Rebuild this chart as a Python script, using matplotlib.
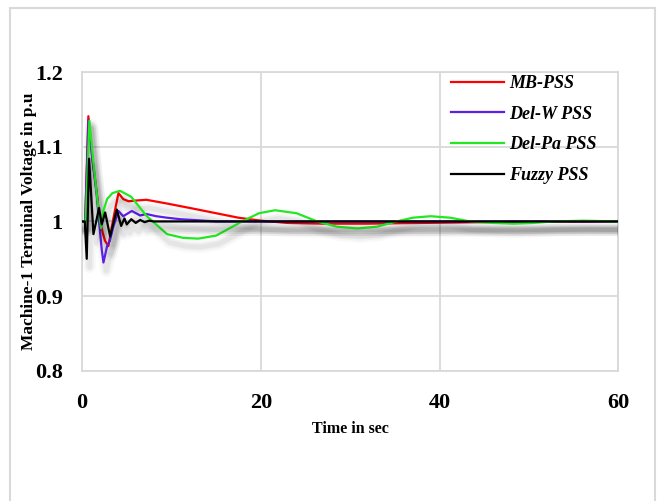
# Machine-1 terminal voltage response for four stabiliser types
import matplotlib.pyplot as plt
import matplotlib.patheffects as pe
from matplotlib.patches import Rectangle

# time (s) and voltage (p.u) samples for each controller
t_mb = [0, 0.35, 0.7, 1.2, 1.64, 1.9, 2.3, 2.57, 2.94, 3.5, 4.07, 4.6, 5.2, 6.0, 7.2,
        9.5, 12.5, 15.0, 17.5, 20.0, 23.0, 27.0, 32.0, 38.0, 45.0, 60.0]
v_mb = [1.0, 1.0, 1.141, 1.08, 1.039, 1.01, 0.985, 0.974, 0.967, 1.004, 1.038, 1.03,
        1.027, 1.028, 1.029, 1.024, 1.017, 1.011, 1.005, 1.001, 0.998, 0.997, 0.997,
        0.998, 0.999, 1.0]

t_dw = [0, 0.35, 0.72, 1.2, 1.64, 1.9, 2.2, 2.39, 2.8, 3.1, 3.5, 4.07, 4.6, 5.56,
        6.5, 7.2, 8.3, 9.5, 11.0, 12.4, 15.0, 60.0]
v_dw = [1.0, 1.0, 1.136, 1.078, 1.036, 1.0, 0.962, 0.945, 0.967, 0.974, 0.993, 1.014,
        1.007, 1.014, 1.008, 1.01, 1.007, 1.005, 1.003, 1.002, 1.0, 1.0]

t_dp = [0, 0.4, 0.82, 1.3, 1.7, 2.13, 2.4, 2.8, 3.4, 4.25, 5.5, 7.24, 9.5, 11.3, 13.0,
        15.0, 17.9, 19.8, 21.6, 24.0, 26.3, 28.5, 30.8, 33.0, 35.2, 37.0, 39.0, 41.2,
        43.4, 46.0, 48.3, 50.5, 52.7, 56.1, 60.0]
v_dp = [1.0, 1.0, 1.135, 1.075, 1.03, 0.991, 1.015, 1.03, 1.038, 1.041, 1.033, 1.007,
        0.983, 0.978, 0.977, 0.981, 1.0, 1.011, 1.015, 1.011, 1.0, 0.993, 0.9906, 0.993,
        1.0, 1.005, 1.007, 1.005, 1.0, 0.998, 0.997, 0.998, 1.0, 1.001, 1.0]

t_fz = [0, 0.3, 0.52, 0.78, 1.27, 1.9, 2.2, 2.58, 3.14, 3.88, 4.37, 4.74, 5.0, 5.5,
        6.0, 6.5, 7.0, 7.5, 8.0, 9.0, 60.0]
v_fz = [1.0, 1.0, 0.95, 1.084, 0.983, 1.018, 0.996, 1.012, 0.98, 1.016, 0.994, 1.004,
        0.996, 1.003, 0.998, 1.002, 0.999, 1.001, 1.0, 1.0, 1.0]

labels = ['MB-PSS', 'Del-W PSS', 'Del-Pa PSS', 'Fuzzy PSS']
colors = ['#ff0000', '#5b1fe6', '#22e822', '#000000']

x_ticks = [0, 20, 40, 60]
y_ticks = [0.8, 0.9, 1.0, 1.1, 1.2]
y_ticklabels = ['0.8', '0.9', '1', '1.1', '1.2']

fig = plt.figure(figsize=(6.62, 5.01), dpi=100)
ax = fig.add_axes([0.124, 0.26, 0.81, 0.596])

# light blurred drop shadow under each curve
shadow = [pe.SimpleLineShadow(offset=(2, -6), shadow_color='k', alpha=0.025, linewidth=9),
          pe.SimpleLineShadow(offset=(2, -6), shadow_color='k', alpha=0.035, linewidth=6),
          pe.SimpleLineShadow(offset=(2, -6), shadow_color='k', alpha=0.045, linewidth=3.5),
          pe.Normal()]

series = [(t_mb, v_mb), (t_dw, v_dw), (t_dp, v_dp), (t_fz, v_fz)]
for (t, v), lab, c in zip(series, labels, colors):
    ax.plot(t, v, color=c, lw=1.6, label=lab, path_effects=shadow, zorder=3)

ax.set_xlim(0, 60)
ax.set_ylim(0.8, 1.2)
ax.set_xticks(x_ticks)
ax.set_yticks(y_ticks)
ax.set_yticklabels(y_ticklabels)
ax.tick_params(length=0, labelsize=16)
ax.tick_params(axis='x', pad=16)
ax.tick_params(axis='y', pad=14)
for lab in ax.get_xticklabels() + ax.get_yticklabels():
    lab.set_family('Liberation Serif')
    lab.set_fontweight('bold')

ax.grid(color='#d9d9d9', lw=1.3)
ax.set_axisbelow(True)
for s in ax.spines.values():
    s.set_color('#d9d9d9')
    s.set_linewidth(1.3)

ax.set_xlabel('Time in sec', family='Liberation Serif', fontweight='bold', fontsize=11.5,
              labelpad=6)
ax.set_ylabel('Machine-1 Terminal Voltage in p.u', family='Liberation Serif',
              fontweight='bold', fontsize=12.5)
ax.yaxis.set_label_coords(-0.085, 0.5)

leg = ax.legend(loc='upper left', bbox_to_anchor=(0.672, 1.02), frameon=False,
                prop={'family': 'Liberation Serif', 'style': 'italic', 'weight': 'bold',
                      'size': 13},
                handlelength=2.9, handletextpad=0.3, labelspacing=0.75, borderpad=0)
for h in leg.legend_handles:
    h.set_path_effects([])

# outer frame around the chart
fig.patches.append(Rectangle((0.015, -0.05), 0.975, 1.034, transform=fig.transFigure,
                             fill=False, edgecolor='#d9d9d9', lw=1.5))

fig.savefig('out.png', dpi=100)
